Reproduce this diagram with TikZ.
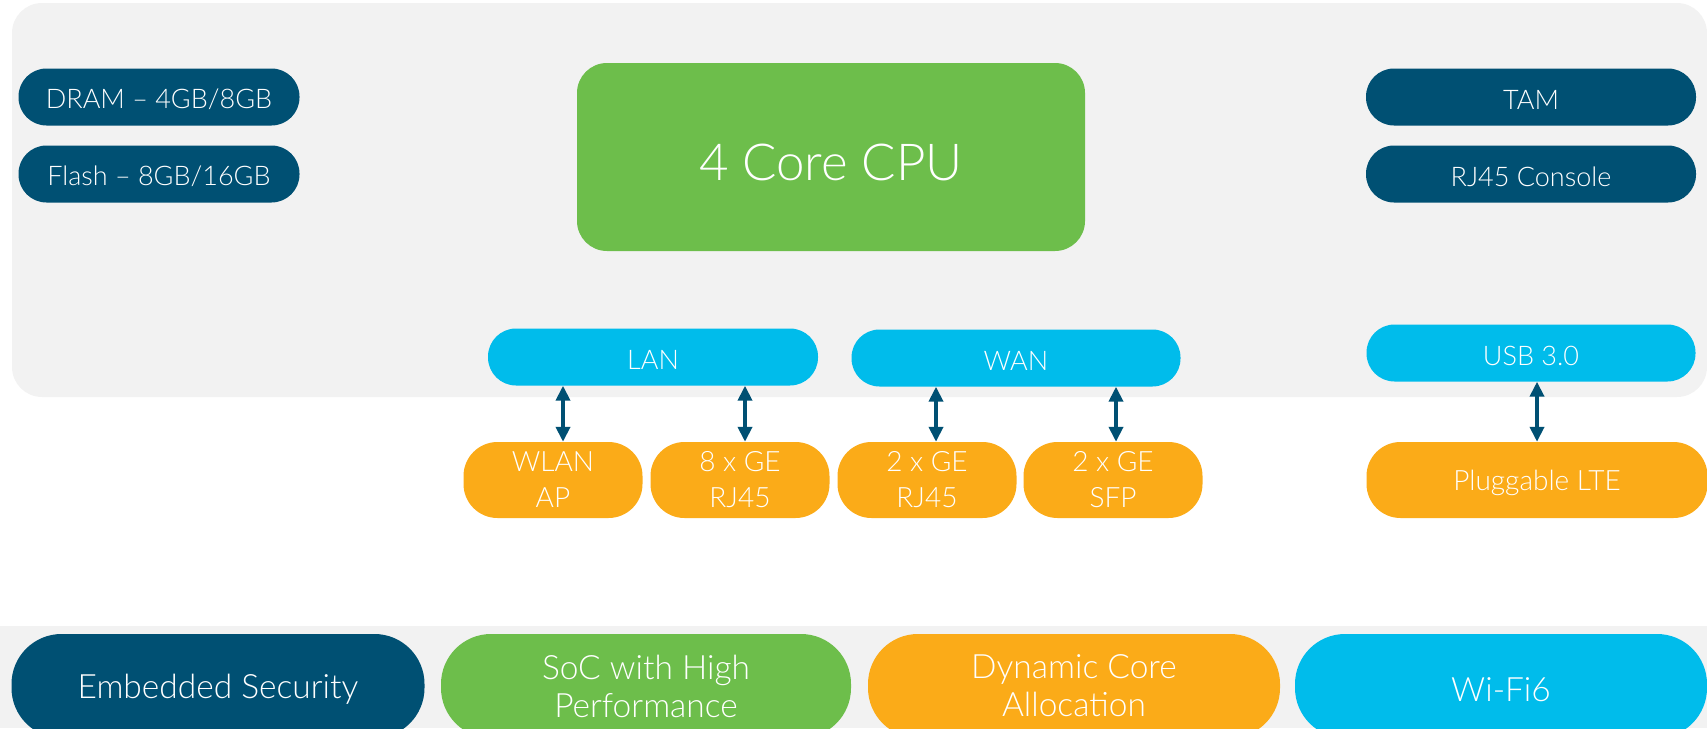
\documentclass[tikz,border=0pt]{standalone}
\usepackage{fontspec}
\setmainfont{Lato Light}
\usetikzlibrary{arrows.meta}

\definecolor{DarkTeal}{HTML}{005073}
\definecolor{LeafGreen}{HTML}{6DBE4B}
\definecolor{Amber}{HTML}{FBAB18}
\definecolor{Sky}{HTML}{00BCEB}
\definecolor{Panel}{HTML}{F2F2F2}

\begin{document}
\begin{tikzpicture}[x=1pt,y=-1pt,
	pill/.style={rounded corners=28pt, inner sep=0pt, text=white, align=center,
		minimum height=57pt, font=\fontsize{27}{32}\selectfont,
		execute at begin node={\rule{0pt}{0.92em}}},
	port/.style={pill, fill=Amber, rounded corners=34pt, minimum height=76pt,
		minimum width=179pt, font=\fontsize{28}{36}\selectfont},
	feature/.style={pill, rounded corners=50pt, minimum height=104pt,
		minimum width=412pt, font=\fontsize{33.5}{38}\selectfont},
	link/.style={draw=DarkTeal, line width=4pt,
		{Triangle[width=14pt,length=15pt]}-{Triangle[width=14pt,length=15pt]}}]

	\useasboundingbox (0,0) rectangle (1707,728);

	% grey backgrounds
	\fill[Panel, rounded corners=30pt] (12,3) rectangle (1707,397);
	\fill[Panel] (0,626) rectangle (1707,728);

	% memory and management
	\node[pill, fill=DarkTeal, minimum width=281pt] (dram) at (159,97) {DRAM -- 4GB/8GB};
	\node[pill, fill=DarkTeal, minimum width=281pt] (flash) at (159,174) {Flash -- 8GB/16GB};
	\node[pill, fill=DarkTeal, minimum width=330pt] (tam) at (1531,97) {TAM};
	\node[pill, fill=DarkTeal, minimum width=330pt] (console) at (1531,174) {RJ45 Console};

	\node[pill, fill=LeafGreen, rounded corners=30pt, minimum width=508pt, minimum height=188pt,
		font=\fontsize{51}{60}\selectfont] (cpu) at (831,157) {4 Core CPU};

	% interfaces
	\node[pill, fill=Sky, minimum width=330pt] (lan) at (653,357) {LAN};
	\node[pill, fill=Sky, minimum width=329pt] (wan) at (1016,358) {WAN};
	\node[pill, fill=Sky, minimum width=329pt] (usb) at (1531,353) {USB 3.0};

	\node[port] (wlan) at (553,480) {WLAN\\AP};
	\node[port] (ge8) at (740,480) {8 x GE\\RJ45};
	\node[port] (ge2) at (927,480) {2 x GE\\RJ45};
	\node[port] (sfp) at (1113,480) {2 x GE\\SFP};
	\node[port, minimum width=341pt] (lte) at (1537,480) {Pluggable LTE};

	\draw[link] ([xshift=10pt]wlan.north) -- ([xshift=10pt]wlan.north |- lan.south);
	\draw[link] ([xshift=5pt]ge8.north) -- ([xshift=5pt]ge8.north |- lan.south);
	\draw[link] ([xshift=9pt]ge2.north) -- ([xshift=9pt]ge2.north |- wan.south);
	\draw[link] ([xshift=3pt]sfp.north) -- ([xshift=3pt]sfp.north |- wan.south);
	\draw[link] (lte.north) -- (lte.north |- usb.south);

	% feature strip
	\node[feature, fill=DarkTeal, minimum width=413pt] (security) at (218,686) {Embedded Security};
	\node[feature, fill=LeafGreen, minimum width=410pt] (soc) at (646,686) {SoC with High\\Performance};
	\node[feature, fill=Amber] (dynamic) at (1074,686) {Dynamic Core\\Allocation};
	\node[feature, fill=Sky] (wifi) at (1501,686) {Wi-Fi6};

\end{tikzpicture}
\end{document}
